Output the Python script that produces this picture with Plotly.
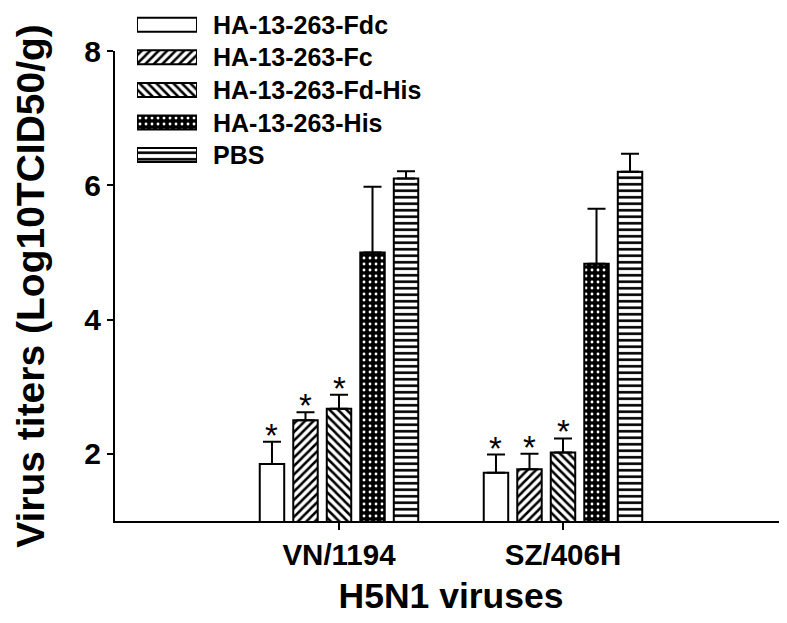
import plotly.graph_objects as go

# ---- data ----
categories = ["VN/1194", "SZ/406H"]
series_names = ["HA-13-263-Fdc", "HA-13-263-Fc", "HA-13-263-Fd-His", "HA-13-263-His", "PBS"]
fdc_vals = [1.85, 1.72]
fc_vals = [2.50, 1.77]
fdhis_vals = [2.67, 2.02]
his_vals = [5.00, 4.83]
pbs_vals = [6.10, 6.20]
fdc_err = [0.33, 0.27]
fc_err = [0.12, 0.23]
fdhis_err = [0.21, 0.21]
his_err = [0.98, 0.82]
pbs_err = [0.11, 0.27]
significant = [[True, True], [True, True], [True, True], [False, False], [False, False]]
y_ticks = [2, 4, 6, 8]

values = [fdc_vals, fc_vals, fdhis_vals, his_vals, pbs_vals]
errors = [fdc_err, fc_err, fdhis_err, his_err, pbs_err]

FONT = "Liberation Sans, Arial, sans-serif"

styles = [
    dict(color="white", pattern=dict(shape="")),
    dict(color="white", pattern=dict(shape="/", fgcolor="black", bgcolor="white", size=6, solidity=0.42, fillmode="replace")),
    dict(color="white", pattern=dict(shape="\\", fgcolor="black", bgcolor="white", size=6, solidity=0.42, fillmode="replace")),
    dict(color="black", pattern=dict(shape=".", fgcolor="white", bgcolor="black", size=6, solidity=0.18, fillmode="replace")),
    dict(color="white", pattern=dict(shape="-", fgcolor="black", bgcolor="white", size=6.5, solidity=0.4, fillmode="replace")),
]

fig = go.Figure()
for name, vals, errs, st in zip(series_names, values, errors, styles):
    fig.add_trace(go.Bar(
        x=categories, y=vals, name=name, showlegend=False,
        marker=dict(color=st["color"], pattern=st["pattern"], line=dict(color="black", width=2)),
        error_y=dict(type="data", symmetric=False, array=errs, arrayminus=[0] * len(errs),
                     color="black", thickness=2, width=9),
        xaxis="x", yaxis="y",
    ))

# custom legend drawn as horizontal bars on a helper axis
for i, (name, st) in enumerate(zip(series_names, styles)):
    fig.add_trace(go.Bar(
        x=[1], y=[i], orientation="h", width=0.43, showlegend=False, hoverinfo="skip",
        marker=dict(color=st["color"], pattern=st["pattern"], line=dict(color="black", width=2)),
        xaxis="x2", yaxis="y2",
    ))
    fig.add_annotation(x=(203 - 107) / 672, xref="paper", y=i, yref="y2", text=name,
                       showarrow=False, xanchor="left", yanchor="middle",
                       font=dict(family=FONT, size=25, color="black", weight="bold"))

# significance asterisks
n = len(series_names)
slot = (1 - 0.252) / n
for s in range(n):
    for c in range(len(categories)):
        if significant[s][c]:
            fig.add_annotation(x=c + (s - (n - 1) / 2) * slot, xref="x",
                               y=values[s][c] + errors[s][c], yref="y",
                               text="*", showarrow=False, yanchor="bottom", yshift=-14,
                               font=dict(family=FONT, size=33, color="black"))

fig.update_layout(
    template="none",
    width=787, height=623,
    margin=dict(l=107, r=8, t=5, b=110, autoexpand=False),
    paper_bgcolor="white", plot_bgcolor="white",
    barmode="group", bargap=0.252, bargroupgap=0.27,
    font=dict(family=FONT, color="black"),
    xaxis=dict(type="category", range=[-1, 2], showline=True, linecolor="black", linewidth=2,
               ticks="outside", ticklen=7, tickwidth=1.5, tickcolor="black", automargin=False,
               tickfont=dict(size=29.5, weight="bold"),
               title=dict(text="H5N1 viruses", font=dict(size=35.5, weight="bold"), standoff=13),
               showgrid=False, zeroline=False),
    yaxis=dict(domain=[0, 470 / 508], range=[1, 8], tickvals=y_ticks, showline=True,
               linecolor="black", linewidth=2, ticks="outside", ticklen=6, tickwidth=2,
               tickcolor="black", tickfont=dict(size=30, weight="bold"), automargin=False,
               title=dict(text="Virus titers (Log10TCID50/g)", font=dict(size=39, weight="bold"), standoff=28),
               showgrid=False, zeroline=False),
    xaxis2=dict(domain=[22 / 672, 82 / 672], range=[0, 1], anchor="y2", visible=False, fixedrange=True),
    yaxis2=dict(domain=[(513 - 155) / 508, 1], range=[4.242, -0.359], anchor="x2", visible=False, fixedrange=True),
)

fig.write_html("out.html")
